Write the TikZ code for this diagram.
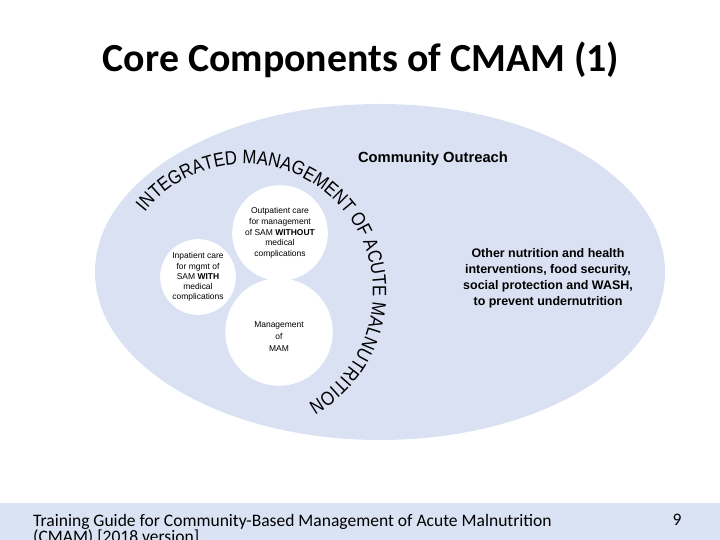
\documentclass[tikz,border=0pt]{standalone}
\usepackage{fontspec}
\setmainfont{Liberation Sans}
\newfontfamily\slidefont{Carlito}
\newfontfamily\arcfont[FakeStretch=0.86]{Liberation Sans}
\usepackage{tikz}
\usetikzlibrary{decorations.text}
\definecolor{paleblue}{HTML}{D9E1F2}
\definecolor{footblue}{HTML}{DAE3F3}

\begin{document}
\begin{tikzpicture}[x=1bp,y=1bp,
    bubble/.style={fill=white,circle,inner sep=0pt},
    smalltxt/.style={align=center,font=\fontsize{8.5}{10.8}\selectfont}]
  \useasboundingbox (0,0) rectangle (720,540);
  \fill[white] (0,0) rectangle (720,540);
  % title and footer band
  \node[anchor=base,font=\slidefont\bfseries\fontsize{40}{40}\selectfont] (title) at (361,468) {Core Components of CMAM (1)};
  \fill[footblue] (0,0) rectangle (720,37);
  \node[anchor=base west,align=left,inner sep=0pt,font=\slidefont\fontsize{17.6}{17}\selectfont] (foot) at (33,-3)
    {Training Guide for Community-Based Management of Acute Malnutrition\\(CMAM) [2018 version]};
  \node[anchor=base,inner sep=0pt,font=\slidefont\fontsize{17.6}{17}\selectfont] (pageno) at (677,14) {9};
  % community outreach
  \fill[paleblue] (380,268) ellipse [x radius=285,y radius=168];
  \node[font=\bfseries\fontsize{14.8}{16}\selectfont] (outreach) at (433,381) {Community Outreach};
  \node[align=center,font=\bfseries\fontsize{12.5}{16}\selectfont] (other) at (548,262)
    {Other nutrition and health\\interventions, food security,\\social protection and WASH,\\to prevent undernutrition};
  % the three CMAM circles
  \coordinate (arcc) at (245,248);
  \node[bubble,minimum size=96] (otp) at (280,307) {};
  \node[bubble,minimum size=76] (sc) at (198,263) {};
  \node[bubble,minimum size=108] (mam) at (279,208) {};
  \node[smalltxt] (otptxt) at (otp) {Outpatient care\\for management\\of SAM \textbf{WITHOUT}\\medical\\complications};
  \node[smalltxt,font=\fontsize{8.5}{10.2}\selectfont] (sctxt) at (sc) {Inpatient care\\for mgmt of\\SAM \textbf{WITH}\\medical\\complications};
  \node[smalltxt,font=\fontsize{8.5}{12}\selectfont] (mamtxt) at ([yshift=-5]mam) {Management\\of\\MAM};
  % arc label
  \path[decorate,decoration={text along path,text align=center,
      text={|\arcfont\fontsize{19.5}{19.5}\selectfont|INTEGRATED MANAGEMENT OF ACUTE MALNUTRITION}}]
    ([shift={(140:128)}]arcc) arc[start angle=140,end angle=-59,radius=128];
\end{tikzpicture}
\end{document}
